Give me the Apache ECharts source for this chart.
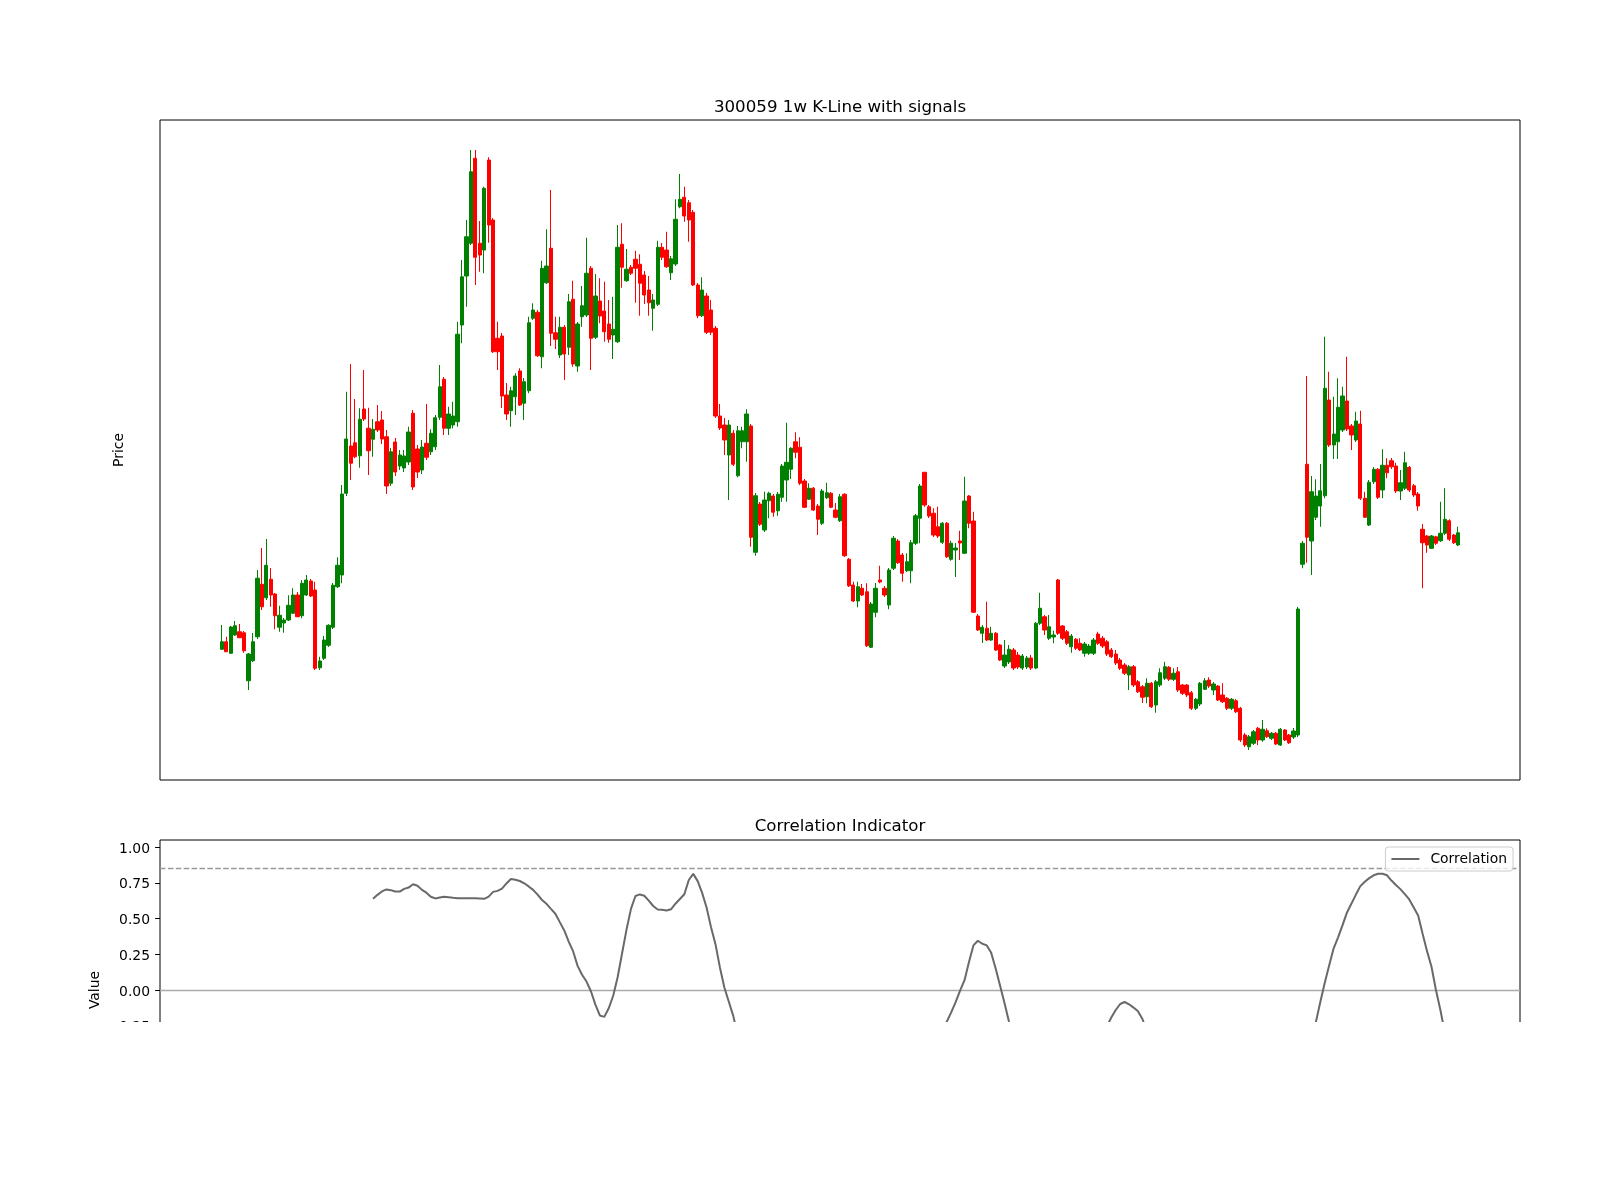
<!DOCTYPE html>
<html><head><meta charset="utf-8">
<script src="https://cdn.jsdelivr.net/npm/echarts@6/dist/echarts.min.js"></script>
<style>html,body{margin:0;padding:0;background:#fff;} #clip{width:1600px;height:1022px;overflow:hidden;} #chart{width:1600px;height:1200px;}</style>
</head><body><div id="clip"><div id="chart"></div></div>
<script>
// Weekly K-line values (price units), one entry per week
const opens = [14.03,14.33,13.87,14.60,14.73,14.69,12.77,13.57,14.53,16.63,
 16.09,16.83,16.24,14.91,15.08,15.20,15.47,16.20,15.37,16.20,
 16.76,16.40,13.29,13.67,14.19,14.91,16.53,17.00,20.27,22.16,
 22.29,21.77,23.64,22.87,22.43,23.13,23.20,22.53,20.67,22.32,
 21.36,21.28,21.52,23.47,22.04,21.20,22.27,21.93,22.13,23.31,
 24.83,22.87,23.00,23.13,27.00,28.96,30.27,33.67,30.27,30.00,
 33.60,31.20,26.47,26.56,24.20,23.57,24.13,25.16,23.87,24.37,
 27.27,27.51,25.73,28.69,30.07,26.69,25.80,26.91,26.11,28.03,
 25.36,27.33,27.40,29.27,26.51,27.96,27.56,27.04,26.60,26.33,
 30.23,28.77,29.31,29.63,29.43,29.00,28.40,27.67,27.83,30.11,
 30.00,29.09,29.44,31.73,32.11,31.89,31.51,28.60,27.37,28.16,
 27.60,26.87,23.36,23.00,21.80,22.67,20.97,22.33,22.33,22.96,
 17.91,19.84,18.80,19.97,20.16,19.57,20.11,20.80,21.23,22.33,
 22.11,20.76,20.03,20.47,19.76,19.07,20.09,20.27,19.60,19.17,
 20.23,17.63,16.60,15.96,16.47,16.33,14.11,15.51,16.80,16.47,
 15.80,17.27,18.36,17.80,17.17,17.17,18.27,19.27,21.11,19.73,
 19.47,18.93,18.31,19.07,17.63,18.00,18.36,17.87,20.16,19.16,
 15.36,14.67,14.87,14.40,14.67,14.20,13.36,13.52,14.00,13.80,
 13.28,13.32,13.68,13.28,15.07,15.33,14.47,14.52,16.80,14.96,
 14.73,14.13,14.43,14.27,13.87,13.87,13.87,14.64,14.47,14.33,
 14.00,13.84,13.60,13.40,13.00,13.33,12.73,12.53,12.13,12.67,
 11.80,12.60,12.87,13.31,12.83,13.13,12.60,12.60,12.29,11.67,
 11.84,12.43,12.80,12.40,12.56,12.20,12.07,11.67,11.97,11.67,
 10.60,10.13,10.27,10.87,10.40,10.77,10.47,10.67,10.20,10.80,
 10.60,10.52,10.60,17.43,21.43,18.36,19.31,19.76,20.17,24.00,
 22.20,22.33,22.80,23.96,22.96,22.40,23.04,20.07,19.00,20.73,
 21.23,20.40,21.39,21.57,21.36,20.36,20.47,21.31,20.57,20.24,
 18.83,18.56,18.07,18.53,18.37,18.67,19.17,18.60,18.20];

const closes = [14.33,13.93,14.92,14.97,14.49,13.97,13.84,14.33,16.87,15.73,
 17.39,16.20,15.37,15.39,15.20,15.79,16.20,15.33,16.67,16.80,
 16.16,13.27,13.56,14.40,14.99,16.59,17.39,20.24,22.44,21.47,
 21.73,23.23,23.24,21.97,22.83,22.80,22.44,20.56,21.93,21.12,
 21.80,21.76,22.72,20.52,21.12,22.12,21.71,22.67,23.29,24.53,
 22.87,23.44,23.36,26.63,28.93,30.53,33.13,29.71,29.80,32.47,
 31.00,25.93,25.93,24.16,23.44,24.37,24.96,23.80,24.73,27.09,
 27.60,25.77,29.27,29.36,26.67,26.43,26.91,25.84,27.93,25.44,
 27.04,27.77,29.07,26.47,28.16,27.36,26.73,26.43,26.83,30.11,
 29.31,29.23,29.07,29.27,28.67,28.20,27.89,28.00,30.11,29.71,
 29.33,29.65,31.23,32.03,31.36,31.20,28.60,27.37,28.40,26.71,
 26.71,23.36,22.88,22.40,23.00,21.43,22.77,22.77,23.44,18.51,
 20.17,19.03,20.00,20.27,19.51,20.23,21.36,21.51,22.07,21.91,
 20.67,19.71,20.47,19.60,19.23,20.36,20.29,19.71,19.31,20.13,
 17.77,16.57,15.96,16.53,16.20,14.17,15.84,16.47,16.72,16.20,
 17.20,18.47,17.49,17.07,17.53,18.29,19.37,20.56,19.80,19.36,
 18.60,18.56,19.07,17.73,18.27,18.08,18.28,19.96,19.07,15.51,
 14.80,14.91,14.40,14.67,14.00,13.60,13.80,14.03,13.28,13.32,
 13.76,13.68,13.28,15.07,15.67,14.80,14.93,14.60,14.67,14.47,
 14.27,14.56,14.07,14.00,14.24,14.16,14.40,14.27,14.16,13.84,
 13.73,13.48,13.27,13.07,13.33,12.60,12.33,12.11,12.67,11.73,
 12.73,13.09,13.33,12.83,13.07,12.40,12.27,12.20,11.67,12.03,
 12.67,12.77,12.56,12.64,12.00,11.93,11.67,12.03,11.53,10.40,
 10.20,10.53,10.73,10.40,10.83,10.53,10.67,10.24,10.83,10.40,
 10.29,10.76,15.64,18.27,18.51,20.33,20.16,20.37,24.47,22.20,
 22.64,23.71,24.16,22.84,22.60,23.16,20.07,19.31,20.71,21.23,
 20.11,21.39,21.09,21.33,20.36,20.69,21.49,20.40,20.20,19.76,
 18.29,18.20,18.56,18.27,18.67,19.23,18.43,18.29,18.69];

const lows = [14.00,13.92,13.84,14.56,14.48,13.89,12.40,13.52,14.44,15.60,
 16.00,15.73,14.83,14.73,14.69,15.16,15.44,15.32,15.27,16.16,
 16.12,13.20,13.20,13.60,14.12,14.84,16.48,16.67,20.16,20.80,
 21.67,21.29,23.16,21.00,21.73,22.72,22.24,20.24,20.56,20.96,
 21.20,21.12,21.40,20.40,20.88,21.04,21.60,21.80,22.00,23.20,
 22.60,22.60,22.87,22.93,26.27,27.73,30.20,28.60,29.13,29.07,
 30.29,25.88,25.20,23.68,23.20,22.93,23.40,23.76,23.20,24.27,
 27.20,25.72,25.27,28.64,26.16,26.04,25.68,24.80,25.80,25.33,
 25.13,26.93,27.32,25.20,26.44,27.07,26.33,26.29,25.64,26.28,
 28.49,28.73,29.00,27.89,27.37,27.84,27.37,26.77,27.76,29.60,
 29.28,28.80,29.36,31.67,31.13,30.33,28.56,27.27,27.32,26.64,
 26.60,23.28,22.80,21.80,20.00,21.36,20.91,22.07,21.53,18.13,
 17.77,18.96,18.72,19.27,19.33,19.37,19.93,19.93,20.84,21.67,
 20.60,19.68,20.00,19.56,18.60,19.00,20.04,19.68,19.27,19.12,
 17.72,16.52,15.92,15.71,16.16,14.12,14.08,15.31,16.67,16.12,
 15.63,17.20,17.44,16.73,17.12,16.67,18.20,18.27,19.73,19.28,
 18.52,18.48,18.24,17.68,17.57,16.92,17.60,17.84,18.87,15.48,
 14.76,14.28,14.36,14.36,13.96,13.56,13.28,13.44,13.20,13.24,
 13.20,13.24,13.20,13.24,15.00,14.60,14.40,14.27,14.60,14.40,
 14.20,13.89,14.00,13.96,13.73,13.80,13.80,14.20,14.08,13.76,
 13.68,13.40,13.20,13.00,12.40,12.52,12.28,11.88,11.87,11.68,
 11.49,12.52,12.80,12.76,12.76,12.32,12.20,12.12,11.60,11.60,
 11.76,12.40,12.48,12.20,11.96,11.88,11.60,11.60,11.48,10.32,
 10.12,10.00,10.20,10.20,10.33,10.48,10.40,10.20,10.16,10.36,
 10.24,10.44,10.52,17.27,17.49,17.00,19.20,18.93,20.07,22.12,
 21.64,21.64,22.72,22.76,22.00,22.32,20.00,19.28,18.96,20.64,
 20.04,20.07,20.87,21.24,20.28,20.00,20.40,20.32,20.12,19.57,
 16.47,17.89,18.04,18.20,18.32,18.60,18.36,18.24,18.16];

const highs = [15.00,14.53,14.96,15.16,15.04,14.76,13.88,14.68,17.20,18.08,
 18.44,17.28,16.28,15.77,15.28,16.19,16.47,16.32,16.80,17.00,
 16.84,16.73,13.73,14.56,15.03,16.68,17.71,20.60,24.33,25.44,
 24.04,23.67,25.20,23.69,23.24,23.80,23.56,22.80,22.08,22.48,
 22.00,22.00,22.93,23.60,22.20,22.40,23.84,22.83,23.40,25.40,
 24.92,23.73,23.93,27.13,29.60,31.20,34.00,34.00,31.16,32.53,
 33.71,31.28,27.13,26.68,24.68,24.53,25.07,25.27,24.88,27.33,
 27.87,27.60,29.57,30.83,32.40,27.33,27.33,27.00,28.24,28.77,
 27.12,28.56,30.49,29.36,29.04,28.87,28.73,28.00,28.13,31.00,
 31.07,30.04,29.40,29.97,29.83,29.16,28.96,28.24,30.37,30.28,
 30.73,29.76,32.03,33.04,32.53,32.00,31.60,28.68,28.91,28.28,
 28.00,26.96,23.84,23.28,23.20,22.80,22.96,22.93,23.63,23.04,
 20.28,19.92,20.33,20.33,20.24,20.32,21.44,23.09,22.11,22.71,
 22.51,20.84,20.67,20.52,19.84,20.44,20.69,20.32,19.88,20.24,
 20.27,17.68,16.73,16.73,16.64,16.67,15.92,16.68,17.37,16.56,
 17.28,18.56,18.44,17.88,17.87,18.40,19.44,20.64,21.12,19.80,
 19.67,19.73,19.12,19.12,18.37,18.28,18.77,20.93,20.20,19.53,
 15.44,15.00,15.93,14.93,14.72,14.24,14.40,14.20,14.08,13.92,
 13.84,13.76,13.80,15.12,16.29,15.40,15.40,14.77,16.84,15.00,
 14.80,14.64,14.48,14.47,14.32,14.24,14.48,14.73,14.56,14.40,
 14.08,14.00,13.68,13.48,13.40,13.40,12.80,12.60,12.87,12.72,
 12.80,13.27,13.53,13.36,13.27,13.32,12.64,12.64,12.36,12.08,
 12.72,12.88,12.91,12.72,12.60,12.67,12.12,12.08,12.04,11.72,
 10.68,10.60,10.80,10.92,11.20,10.87,10.72,10.72,10.88,10.84,
 10.64,10.88,15.72,18.36,24.96,20.96,20.83,21.44,26.53,25.13,
 24.13,24.87,24.53,25.73,23.04,23.53,23.57,20.33,20.80,21.32,
 21.28,22.03,21.67,21.68,21.49,21.20,21.93,21.36,20.64,20.32,
 19.04,18.60,18.60,18.57,19.93,20.47,19.23,18.64,18.93];

// Correlation indicator (null where it is not shown in the picture)
const correlation = [
 null,null,null,null,null,null,null,null,null,null,
 null,null,null,null,null,null,null,null,null,null,
 null,null,null,null,null,null,null,null,null,null,
 null,null,null,null,
 0.638,0.666,0.690,0.704,0.699,0.689,0.689,0.708,0.717,0.740,
 0.730,0.701,0.681,0.653,0.641,0.647,0.653,0.650,0.646,0.643,
 0.642,0.642,0.642,0.642,0.640,0.638,0.654,0.687,0.694,0.710,
 0.746,0.777,0.772,0.763,0.747,0.725,0.701,0.668,0.630,0.603,
 0.568,0.534,0.475,0.417,0.339,0.270,0.169,0.107,0.059,-0.009,
 -0.102,-0.178,-0.188,-0.128,-0.040,0.089,0.257,0.423,0.568,0.658,
 0.669,0.660,0.626,0.588,0.564,0.561,0.556,0.565,0.604,0.637,
 0.670,0.770,0.813,0.762,0.680,0.577,0.440,0.321,0.158,0.018,
 -0.082,-0.181,-0.32,
 null,null,null,null,null,null,null,null,null,null,
 null,null,null,null,null,null,null,null,null,null,
 null,null,null,null,null,null,null,null,null,null,
 null,null,null,null,null,null,null,null,null,null,
 null,null,null,null,null,
 -0.30,-0.222,-0.157,-0.085,-0.004,0.069,0.196,0.312,0.345,0.324,
 0.312,0.260,0.151,0.029,-0.093,-0.222,-0.33,
 null,null,null,null,null,null,null,null,null,null,
 null,null,null,null,null,null,null,null,null,
 -0.31,-0.255,-0.193,-0.140,-0.098,-0.084,-0.100,-0.123,-0.149,-0.203,-0.29,
 null,null,null,null,null,null,null,null,null,null,
 null,null,null,null,null,null,null,null,null,null,
 null,null,null,null,null,null,null,null,null,null,
 null,null,null,null,null,null,
 -0.37,-0.225,-0.084,0.051,0.174,0.292,0.369,0.454,0.543,0.605,
 0.668,0.727,0.758,0.783,0.803,0.814,0.814,0.803,0.766,0.735,
 0.706,0.671,0.634,0.578,0.522,0.394,0.272,0.163,0.000,-0.140,
 -0.30,
 null,null,null];

const THRESHOLD = 0.85;
const corrTicks = [-1.0, -0.75, -0.5, -0.25, 0, 0.25, 0.5, 0.75, 1.0];
const corrLimits = [-1.05, 1.05];

const N = opens.length;
const candles = opens.map((o, i) => [i, o, closes[i], lows[i], highs[i]]);
const corrData = correlation.map((v, i) => [i, v]);
const lo = Math.min(...lows), hi = Math.max(...highs);
const pad = (hi - lo) * 0.05;
const xMin = -0.05 * (N - 1), xMax = (N - 1) * 1.05;
const FONT = 'DejaVu Sans';

const hiddenAxis = { axisLine: {show: false, onZero: false}, axisTick: {show: false}, axisLabel: {show: false}, splitLine: {show: false} };

const chart = echarts.init(document.getElementById('chart'), null, {renderer: 'canvas'});
chart.setOption({
  animation: false,
  backgroundColor: '#ffffff',
  title: [
    {text: '300059 1w K-Line with signals', left: 840, top: 99, textAlign: 'center', padding: 0,
     textStyle: {fontFamily: FONT, fontSize: 16.67, fontWeight: 'normal', color: '#000'}},
    {text: 'Correlation Indicator', left: 840, top: 818, textAlign: 'center', padding: 0,
     textStyle: {fontFamily: FONT, fontSize: 16.67, fontWeight: 'normal', color: '#000'}}
  ],
  legend: {
    data: ['Correlation'], right: 87, top: 847, icon: 'rect', itemWidth: 28, itemHeight: 2,
    padding: [5, 6, 5, 6], borderColor: '#cccccc', borderWidth: 1, borderRadius: 3,
    backgroundColor: 'rgba(255,255,255,0.8)', selectedMode: false,
    textStyle: {fontFamily: FONT, fontSize: 13.9, color: '#000', padding: [0, 0, 0, 6]}
  },
  grid: [
    {left: 160, top: 120, width: 1360, height: 660, show: true, borderColor: '#000', borderWidth: 1, backgroundColor: 'transparent'},
    {left: 160, top: 840, width: 1360, height: 300, show: true, borderColor: '#000', borderWidth: 1, backgroundColor: 'transparent'}
  ],
  xAxis: [
    Object.assign({type: 'value', gridIndex: 0, min: xMin, max: xMax}, hiddenAxis),
    Object.assign({type: 'value', gridIndex: 1, min: xMin, max: xMax}, hiddenAxis)
  ],
  yAxis: [
    Object.assign({type: 'value', gridIndex: 0, min: lo - pad, max: hi + pad,
      name: 'Price', nameLocation: 'middle', nameRotate: 90, nameGap: 34, nameMoveOverlap: false,
      nameTextStyle: {fontFamily: FONT, fontSize: 13.9, color: '#000'}}, hiddenAxis),
    {type: 'value', gridIndex: 1, min: corrLimits[0], max: corrLimits[1],
      name: 'Value', nameLocation: 'middle', nameRotate: 90, nameGap: 58, nameMoveOverlap: false,
      nameTextStyle: {fontFamily: FONT, fontSize: 13.9, color: '#000'},
      axisLine: {show: false, onZero: false},
      axisTick: {show: true, length: 4.9, customValues: corrTicks, lineStyle: {color: '#000', width: 1}},
      axisLabel: {show: true, customValues: corrTicks, margin: 10, fontFamily: FONT, fontSize: 13.9, color: '#000',
        verticalAlign: 'top', lineHeight: 4,
        formatter: v => v.toFixed(2).replace('-', '\u2212')},
      splitLine: {show: false}}
  ],
  series: [
    {type: 'candlestick', xAxisIndex: 0, yAxisIndex: 0, data: candles, barWidth: 3.8,
     itemStyle: {color: '#008000', color0: '#ff0000', borderColor: '#008000', borderColor0: '#ff0000', borderWidth: 1}},
    {type: 'line', name: 'Correlation', xAxisIndex: 1, yAxisIndex: 1, data: corrData, z: 3,
     showSymbol: false, symbol: 'none', connectNulls: false,
     lineStyle: {color: '#696969', width: 2}, itemStyle: {color: '#696969'},
     markLine: {silent: true, symbol: 'none', z: 1, label: {show: false}, animation: false,
       data: [
         {yAxis: THRESHOLD, lineStyle: {color: '#999999', type: [5.5, 2.4], width: 1.4}},
         {yAxis: 0, lineStyle: {color: '#aaaaaa', type: 'solid', width: 1.4}}
       ]}}
  ]
});
</script>
</body></html>
